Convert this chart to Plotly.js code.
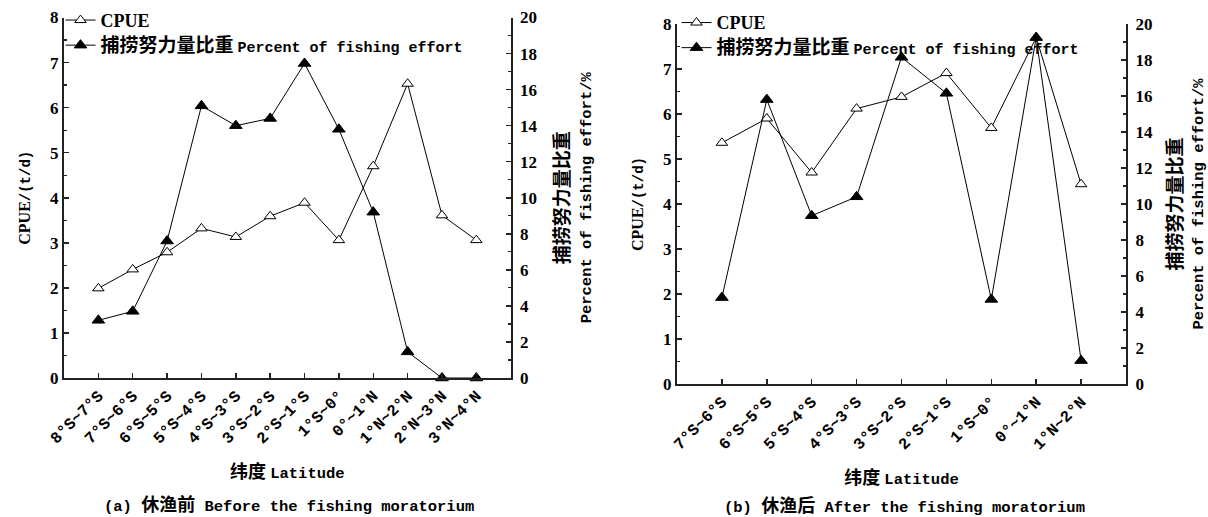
<!DOCTYPE html>
<html>
<head>
<meta charset="utf-8">
<script src="https://cdn.plot.ly/plotly-3.0.1.min.js"></script>
<style>html,body{margin:0;padding:0;background:#fff;}#chart{width:1208px;height:517px;}</style>
</head>
<body>
<div id="chart"></div>
<script>
// ---- data ----
const latA = ['8°S~7°S','7°S~6°S','6°S~5°S','5°S~4°S','4°S~3°S','3°S~2°S','2°S~1°S','1°S~0°','0°~1°N','1°N~2°N','2°N~3°N','3°N~4°N'];
const cpueA = [1.99, 2.41, 2.79, 3.32, 3.13, 3.59, 3.89, 3.06, 4.70, 6.53, 3.61, 3.06];
const effortA = [3.2, 3.7, 7.6, 15.1, 14.0, 14.4, 17.45, 13.8, 9.2, 1.45, 0, 0];

const latB = ['7°S~6°S','6°S~5°S','5°S~4°S','4°S~3°S','3°S~2°S','2°S~1°S','1°S~0°','0°~1°N','1°N~2°N'];
const cpueB = [5.36, 5.90, 4.70, 6.12, 6.38, 6.91, 5.69, 7.70, 4.44];
const effortB = [4.8, 15.8, 9.35, 10.4, 18.15, 16.15, 4.7, 19.25, 1.3];

const mono = (t, s) => '<span style="font-family:Liberation Mono;font-weight:bold;font-size:' + s + 'px">' + t + '</span>';
const cjk = (t, s) => '<span style="font-size:' + s + 'px">' + t + '</span>';
const nameCPUE = '<span style="font-family:Liberation Serif;font-weight:bold;font-size:18px">CPUE</span>';
const nameEffort = cjk('捕捞努力量比重', 19) + ' ' + mono('Percent of fishing effort', 15);
const yTitleLeft = 'CPUE' + mono('/(t/d)', 14);
const yTitleRight = cjk('捕捞努力量比重', 19) + '<br>' + mono('Percent of fishing effort/%', 15.5);
const xTitle = '纬度 ' + mono('Latitude', 15.5);
const subA = mono('(a) ', 15.5) + '休渔前' + mono(' Before the fishing moratorium', 15.5);
const subB = mono('(b) ', 15.5) + '休渔后' + mono(' After the fishing moratorium', 15.5);

// ---- styles ----
const W = 1208, H = 517;
const axisColor = '#222';
const tickFont = {family: 'Liberation Serif', size: 17, color: '#000', weight: 'bold'};
const catFont = {family: 'Liberation Mono', size: 16, color: '#000', weight: 'bold'};
const cjkFont = {family: 'Noto Sans CJK SC', size: 18, color: '#000', weight: 'bold'};
const cjkFontR = {family: 'Noto Sans CJK SC', size: 16.5, color: '#000', weight: 'bold'};
const serifBold = {family: 'Liberation Serif', size: 16, color: '#000', weight: 'bold'};

function cpueTrace(x, y, xa, ya, lg) {
  return {x: x, y: y, xaxis: xa, yaxis: ya, legend: lg, name: nameCPUE, type: 'scatter', mode: 'lines+markers',
    line: {color: '#000', width: 1}, cliponaxis: false,
    marker: {symbol: 'triangle-up', size: 10, color: '#fff', line: {color: '#000', width: 1}}};
}
function effortTrace(x, y, xa, ya, lg) {
  return {x: x, y: y, xaxis: xa, yaxis: ya, legend: lg, name: nameEffort, type: 'scatter', mode: 'lines+markers',
    line: {color: '#000', width: 1}, cliponaxis: false,
    marker: {symbol: 'triangle-up', size: 11, color: '#000', line: {color: '#000', width: 1}}};
}

const data = [
  cpueTrace(latA, cpueA, 'x', 'y', 'legend'),
  effortTrace(latA, effortA, 'x', 'y2', 'legend'),
  cpueTrace(latB, cpueB, 'x2', 'y3', 'legend2'),
  effortTrace(latB, effortB, 'x2', 'y4', 'legend2')
];

function xAxis(dom, rng, anchor) {
  return {domain: dom, range: rng, type: 'category', anchor: anchor, showline: true, linecolor: axisColor, linewidth: 2,
    ticks: 'inside', ticklen: 5, tickwidth: 1.5, tickcolor: axisColor, tickangle: -45, tickfont: catFont,
    showgrid: false, zeroline: false, fixedrange: true,
    title: {text: xTitle, font: cjkFont, standoff: 18}};
}
function yLeft(dom, anchor) {
  return {domain: dom, range: [0, 8], anchor: anchor, dtick: 1, showline: true, linecolor: axisColor, linewidth: 2,
    ticks: 'inside', ticklen: 5, tickwidth: 1.5, tickcolor: axisColor, tickfont: tickFont,
    minor: {dtick: 0.5, ticks: 'inside', ticklen: 3, tickwidth: 1.2, tickcolor: axisColor, showgrid: false},
    showgrid: false, zeroline: false, fixedrange: true,
    title: {text: yTitleLeft, font: serifBold, standoff: 15}};
}
function yRight(over, anchor) {
  return {overlaying: over, side: 'right', anchor: anchor, range: [0, 20], dtick: 2, showline: true, linecolor: axisColor, linewidth: 2,
    ticks: 'inside', ticklen: 5, tickwidth: 1.5, tickcolor: axisColor, tickfont: tickFont, ticklabelstandoff: 4,
    minor: {dtick: 1, ticks: 'inside', ticklen: 3, tickwidth: 1.2, tickcolor: axisColor, showgrid: false},
    showgrid: false, zeroline: false, fixedrange: true,
    title: {text: yTitleRight, font: cjkFontR, standoff: 21}};
}

const legendFont = {family: 'Noto Sans CJK SC', size: 17, color: '#000', weight: 'bold'};

const layout = {
  width: W, height: H, margin: {l: 0, r: 0, t: 0, b: 0},
  paper_bgcolor: '#fff', plot_bgcolor: '#fff',
  font: {family: 'Liberation Mono', color: '#000'},
  showlegend: true,
  xaxis: xAxis([64 / W, 510.7 / W], [-1, 12], 'y'),
  yaxis: yLeft([1 - 378 / H, 1 - 17.5 / H], 'x'),
  yaxis2: yRight('y', 'x'),
  xaxis2: xAxis([677 / W, 1126 / W], [-1, 9], 'y3'),
  yaxis3: yLeft([1 - 384 / H, 1 - 24 / H], 'x2'),
  yaxis4: yRight('y3', 'x2'),
  legend: {x: 60.5 / W, y: 1 - 2.5 / H, xanchor: 'left', yanchor: 'top', bgcolor: 'rgba(0,0,0,0)',
    font: legendFont, tracegroupgap: 0},
  legend2: {x: 676.5 / W, y: 1 - 5 / H, xanchor: 'left', yanchor: 'top', bgcolor: 'rgba(0,0,0,0)',
    font: legendFont, tracegroupgap: 0},
  annotations: [
    {text: subA, xref: 'paper', yref: 'paper', x: 289 / W, y: 1 - 503 / H, xanchor: 'center', yanchor: 'middle', showarrow: false, font: cjkFont},
    {text: subB, xref: 'paper', yref: 'paper', x: 904 / W, y: 1 - 504 / H, xanchor: 'center', yanchor: 'middle', showarrow: false, font: cjkFont}
  ]
};

Plotly.newPlot('chart', data, layout, {displayModeBar: false, staticPlot: true});
</script>
</body>
</html>
